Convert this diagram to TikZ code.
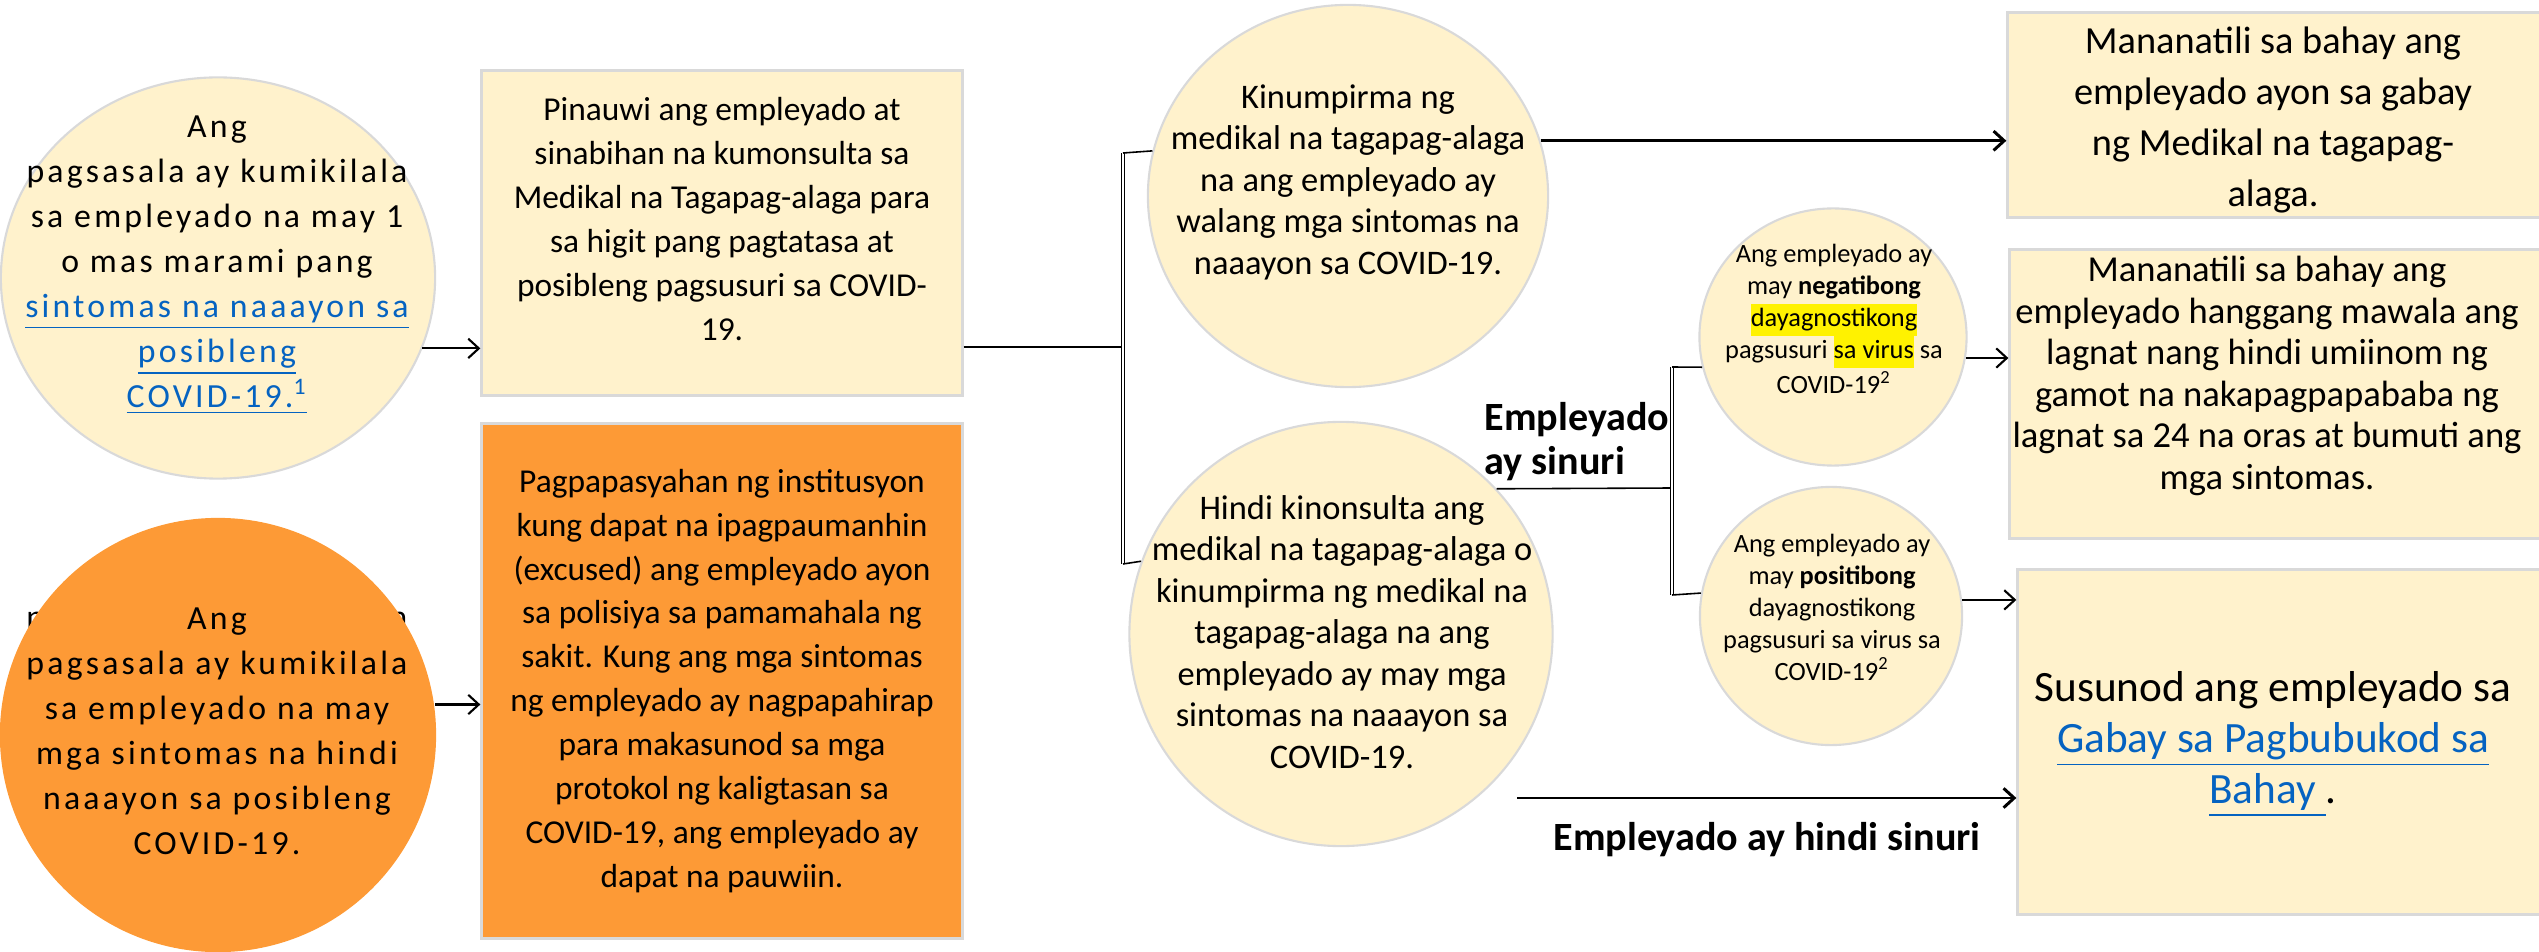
\documentclass[tikz,border=0pt]{standalone}
\usepackage{fontspec}
\setmainfont{Carlito}
\newfontfamily\widefont{Carlito}[LetterSpace=9.5]
\usepackage{tikz}
\usetikzlibrary{shapes.geometric,arrows.meta,positioning}
\definecolor{cream}{HTML}{FFF2CC}
\definecolor{orangefill}{HTML}{FD9A36}
\definecolor{edgegrey}{HTML}{D9D9D9}
\definecolor{linkblue}{HTML}{0563C1}
\newcommand{\lnk}[1]{\textcolor{linkblue}{\underline{#1}}}
\newcommand{\hlt}[1]{{\setlength{\fboxsep}{0pt}\colorbox{yellow}{\strut #1}}}
\tikzset
{
    bubble/.style = {ellipse, draw=edgegrey, line width=0.6pt, fill=cream,
                          inner sep=0pt, anchor=center},
    infobox/.style = {rectangle, draw=edgegrey, line width=0.85pt, fill=cream,
                          inner sep=0pt, anchor=center},
    bodytext/.style = {align=center, inner sep=0pt, anchor=center},
    flowarrow/.style = {line width=0.6pt, -{Straight Barb[length=3pt,width=5.5pt]}},
    joinline/.style = {line width=0.45pt},
    bracketline/.style = {double, double distance=0.6pt, line width=0.35pt}
}

\begin{document}
\begin{tikzpicture}[
        % one unit is one pixel of the sheet, y runs downwards:
        x=0.01cm, y=-0.01cm,
        % text sizes for the different columns:
        widetext/.style={bodytext, font=\widefont\fontsize{9.6pt}{12.8pt}\selectfont},
        boxtext/.style={bodytext, font=\fontsize{9.5pt}{12.5pt}\selectfont},
        midtext/.style={bodytext, font=\fontsize{9.8pt}{11.8pt}\selectfont},
        smalltext/.style={bodytext, font=\fontsize{7.5pt}{9.1pt}\selectfont},
        branchlabel/.style={inner sep=0pt, font=\bfseries\fontsize{11.4pt}{12.5pt}\selectfont}
      ]
    \useasboundingbox (0,0) rectangle (2539,952);

    % first column: screening result
    \node[bubble, minimum width=4.34cm, minimum height=4.01cm] (c1) at (218,278) {};
    \node[widetext] (c1txt) at (217,265) {Ang\\
        pagsasala ay kumikilala\\
        sa empleyado na may 1\\
        o mas marami pang\\
        \lnk{sintomas na naaayon sa}\\
        \lnk{posibleng}\\
        \lnk{COVID-19.\textsuperscript{1}}};
    \node[widetext] (ghost) at (217,620) {pagsasala ay kumikilala};
    \node[bubble, fill=orangefill, draw=none, minimum width=4.36cm, minimum height=4.34cm] (c2) at (218,735) {};
    \node[widetext] (c2txt) at (217,731) {Ang\\
        pagsasala ay kumikilala\\
        sa empleyado na may\\
        mga sintomas na hindi\\
        naaayon sa posibleng\\
        COVID-19.};

    % second column
    \node[infobox, minimum width=4.80cm, minimum height=3.24cm] (b1) at (722,233) {};
    \node[boxtext] (b1txt) at (722,219) {Pinauwi ang empleyado at\\
        sinabihan na kumonsulta sa\\
        Medikal na Tagapag-alaga para\\
        sa higit pang pagtatasa at\\
        posibleng pagsusuri sa COVID-\\
        19.};
    \node[infobox, fill=orangefill, minimum width=4.80cm, minimum height=5.15cm] (b2) at (722,681) {};
    \node[boxtext] (b2txt) at (722,681) {Pagpapasyahan ng institusyon\\
        kung dapat na ipagpaumanhin\\
        (excused) ang empleyado ayon\\
        sa polisiya sa pamamahala ng\\
        sakit. Kung ang mga sintomas\\
        ng empleyado ay nagpapahirap\\
        para makasunod sa mga\\
        protokol ng kaligtasan sa\\
        COVID-19, ang empleyado ay\\
        dapat na pauwiin.};

    % third column: medical provider
    \node[bubble, minimum width=4.00cm, minimum height=3.82cm] (c3) at (1348,196) {};
    \node[midtext] (c3txt) at (1348,182) {Kinumpirma ng\\
        medikal na tagapag-alaga\\
        na ang empleyado ay\\
        walang mga sintomas na\\
        naaayon sa COVID-19.};
    \node[bubble, minimum width=4.23cm, minimum height=4.24cm] (c4) at (1341,634) {};
    \node[midtext] (c4txt) at (1342,632) {Hindi kinonsulta ang\\
        medikal na tagapag-alaga o\\
        kinumpirma ng medikal na\\
        tagapag-alaga na ang\\
        empleyado ay may mga\\
        sintomas na naaayon sa\\
        COVID-19.};

    % fourth column: test results
    \node[bubble, minimum width=2.67cm, minimum height=2.57cm] (c5) at (1833,337) {};
    \node[smalltext] (c5txt) at (1834,319) {Ang empleyado ay\\
        may \textbf{negatibong}\\
        \hlt{dayagnostikong}\\
        pagsusuri \hlt{sa virus} sa\\
        COVID-19\textsuperscript{2}};
    \node[bubble, minimum width=2.62cm, minimum height=2.58cm] (c6) at (1831,616) {};
    \node[smalltext] (c6txt) at (1832,607) {Ang empleyado ay\\
        may \textbf{positibong}\\
        dayagnostikong\\
        pagsusuri sa virus sa\\
        COVID-19\textsuperscript{2}};

    % last column: outcomes
    \node[infobox, minimum width=5.32cm, minimum height=2.05cm] (b3) at (2274,115) {};
    \node[bodytext, font=\fontsize{10.9pt}{14.5pt}\selectfont] (b3txt) at (2273,120) {Mananatili sa bahay ang\\
        empleyado ayon sa gabay\\
        ng Medikal na tagapag-\\
        alaga.};
    \node[infobox, minimum width=5.30cm, minimum height=2.88cm] (b4) at (2275,394) {};
    \node[bodytext, font=\fontsize{10.4pt}{11.8pt}\selectfont] (b4txt) at (2267,376) {Mananatili sa bahay ang\\
        empleyado hanggang mawala ang\\
        lagnat nang hindi umiinom ng\\
        gamot na nakapagpapababa ng\\
        lagnat sa 24 na oras at bumuti ang\\
        mga sintomas.};
    \node[infobox, minimum width=5.22cm, minimum height=3.45cm] (b5) at (2279,742) {};
    \node[bodytext, font=\fontsize{12.3pt}{14.5pt}\selectfont] (b5txt) at (2273,744) {Susunod ang empleyado sa\\
        \lnk{Gabay sa Pagbubukod sa}\\
        \lnk{Bahay\ }.};

    % branch labels
    \node[branchlabel, anchor=west, align=left] (tested) at (1484,442) {Empleyado\\ay sinuri};
    \node[branchlabel] (untested) at (1767,840) {Empleyado ay hindi sinuri};

    % connectors
    \draw[flowarrow] (c1.-19) -- (c1.-19 -| b1.west);
    \draw[flowarrow] (c2.8.7) -- (c2.8.7 -| b2.west);

    \coordinate (j1) at (1123,347);
    \coordinate (j1top) at (1123,153);
    \coordinate (j1bot) at (1123,564);
    \draw[joinline] (b1.east |- j1) -- (j1);
    \draw[bracketline] (j1top) -- (j1bot);
    \draw[joinline] (j1top) -- (c3.167.6);
    \draw[joinline] (j1bot) -- (c4.160.7);

    \draw[flowarrow, line width=0.85pt] (c3.16.3) -- (c3.16.3 -| b3.west);

    \coordinate (j2) at (1672,488);
    \coordinate (j2top) at (1672,367);
    \coordinate (j2bot) at (1672,595);
    \draw[joinline] (c4.43.6) -- (j2);
    \draw[bracketline] (j2top) -- (j2bot);
    \draw[joinline] (j2top) -- (c5.193);
    \draw[joinline] (j2bot) -- (c6.170.8);

    \draw[flowarrow] (c5.-9.1) -- (c5.-9.1 -| b4.west);
    \draw[flowarrow] (c6.7.9) -- (c6.7.9 -| b5.west);

    \coordinate (nt) at (1517,798);
    \draw[flowarrow, line width=0.85pt] (nt) -- (nt -| b5.west);
\end{tikzpicture}
\end{document}
